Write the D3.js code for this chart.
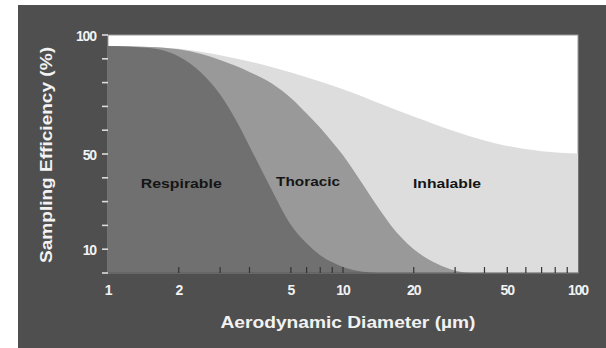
<!DOCTYPE html>
<html><head><meta charset="utf-8">
<script src="https://cdn.jsdelivr.net/npm/d3@7"></script>
<style>html,body{margin:0;padding:0;background:#fff;}svg{display:block;}</style>
</head><body>
<script>
// Data
const inhalableD = [1, 1.5, 2, 3, 4, 5, 7, 10, 15, 20, 30, 40, 50, 70, 100];
const inhalableE = [95.4, 95.0, 94.2, 91.5, 88.9, 86.4, 82.2, 77.2, 70.5, 65.8, 59.5, 55.7, 53.4, 51.2, 50.2];
const thoracicD = [1, 1.5, 2, 2.5, 3, 4, 5, 6, 7, 8, 9, 10, 12, 14, 16, 20, 25, 30, 35, 100];
const thoracicE = [95.4, 95, 94, 92, 89.5, 84.5, 79.5, 73.5, 67, 61, 55, 49.5, 38, 28, 20, 10, 4, 1, 0, 0];
const respirableD = [1, 1.5, 2, 2.5, 3, 3.5, 4, 4.5, 5, 6, 7, 8, 9, 10, 12, 14, 100];
const respirableE = [95.4, 94.5, 91, 84, 75, 64.3, 53.3, 43.3, 34.5, 20.3, 12.5, 7.5, 4.5, 2.5, 0.6, 0, 0];
const fractionNames = ["Respirable", "Thoracic", "Inhalable"];
const fractionLabelAt = [[2.05, 38], [7.1, 38.5], [27.7, 38]];
const xMinorTicks = [2, 3, 4, 6, 7, 8, 9, 10, 20, 30, 40, 50, 60, 70, 80, 90];
const xTickLabelAt = [1, 2, 6, 10, 20, 50, 100];
const xTickLabelText = ["1", "2", "5", "10", "20", "50", "100"];
const yTicks = [0, 10, 20, 30, 40, 50, 60, 70, 80, 90, 100];
const yTickLabels = [10, 50, 100];
const xTitle = "Aerodynamic Diameter (µm)";
const yTitle = "Sampling Efficiency (%)";

const W = 606, H = 348;
const svg = d3.select("body").append("svg").attr("width", W).attr("height", H);
svg.append("rect").attr("x", 18).attr("y", 5).attr("width", W - 18).attr("height", H - 5).attr("fill", "#4f4f4f");

const x = d3.scaleLog().domain([1, 100]).range([108, 578]);
const y = d3.scaleLinear().domain([0, 100]).range([273, 35]);

svg.append("rect").attr("x", x(1)).attr("y", y(100)).attr("width", x(100) - x(1)).attr("height", y(0) - y(100))
  .attr("fill", "#ffffff").attr("stroke", "#9a9a9a").attr("stroke-width", 1);

function area(ds, es) {
  const pts = ds.map((d, i) => [d, es[i]]);
  return d3.area().x(p => x(p[0])).y0(y(0)).y1(p => y(p[1])).curve(d3.curveMonotoneX)(pts);
}
svg.append("path").attr("d", area(inhalableD, inhalableE)).attr("fill", "#dddddd");
svg.append("path").attr("d", area(thoracicD, thoracicE)).attr("fill", "#999999");
svg.append("path").attr("d", area(respirableD, respirableE)).attr("fill", "#707070");

// bottom axis line
svg.append("line").attr("x1", x(1)).attr("x2", x(100)).attr("y1", y(0)).attr("y2", y(0)).attr("stroke", "#5a5a5a").attr("stroke-width", 1);

// x minor ticks (inside the plot)
svg.selectAll(".xt").data(xMinorTicks).enter().append("line")
  .attr("x1", d => x(d)).attr("x2", d => x(d)).attr("y1", y(0)).attr("y2", y(0) - 6)
  .attr("stroke", "#333").attr("stroke-width", 1.2);

// y ticks (outside, light)
svg.selectAll(".yt").data(yTicks).enter().append("line")
  .attr("x1", 102).attr("x2", x(1)).attr("y1", d => y(d)).attr("y2", d => y(d))
  .attr("stroke", "#dcdcdc").attr("stroke-width", 1.6);

const font = "'Liberation Sans', Arial, sans-serif";
svg.selectAll(".yl").data(yTickLabels).enter().append("text")
  .attr("x", 96).attr("y", d => y(d) + 6).attr("text-anchor", "end")
  .attr("font-family", font).attr("font-weight", "bold").attr("font-size", 14).attr("letter-spacing", -1.1)
  .attr("fill", "#f2f2f2").text(d => d);

svg.selectAll(".xl").data(xTickLabelAt).enter().append("text")
  .attr("x", d => x(d)).attr("y", 295).attr("text-anchor", "middle")
  .attr("font-family", font).attr("font-weight", "bold").attr("font-size", 14).attr("letter-spacing", -1.1)
  .attr("fill", "#f2f2f2").text((d, i) => xTickLabelText[i]);

svg.append("text").attr("x", 348).attr("y", 328).attr("text-anchor", "middle")
  .attr("font-family", font).attr("font-weight", "bold").attr("font-size", 17)
  .attr("textLength", 255).attr("lengthAdjust", "spacingAndGlyphs")
  .attr("fill", "#f2f2f2").text(xTitle);

svg.append("text").attr("transform", "translate(52,155) rotate(-90)").attr("text-anchor", "middle")
  .attr("font-family", font).attr("font-weight", "bold").attr("font-size", 16)
  .attr("textLength", 216).attr("lengthAdjust", "spacingAndGlyphs")
  .attr("fill", "#f2f2f2").text(yTitle);

const labelW = [81, 64, 68];
svg.selectAll(".fl").data(fractionNames).enter().append("text")
  .attr("x", (d, i) => x(fractionLabelAt[i][0])).attr("y", (d, i) => y(fractionLabelAt[i][1]) + 5)
  .attr("text-anchor", "middle")
  .attr("font-family", font).attr("font-size", 13.5).attr("font-weight", "bold")
  .attr("textLength", (d, i) => labelW[i]).attr("lengthAdjust", "spacingAndGlyphs")
  .attr("fill", "#151515").text(d => d);
</script>
</body></html>
